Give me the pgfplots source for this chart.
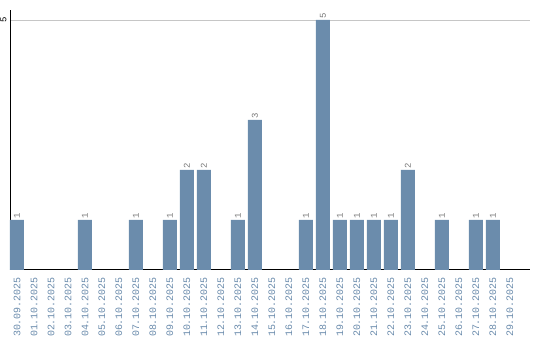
\documentclass[border=0pt]{standalone}
\usepackage{pgfplots}
\pgfplotsset{compat=1.18}
\usepackage{fontspec}
\setmainfont{Liberation Mono}
\definecolor{barc}{HTML}{6B8CAC}
\definecolor{labc}{HTML}{6A8BAC}
\definecolor{valc}{HTML}{7A7A7A}
\begin{document}
\begin{tikzpicture}
\begin{axis}[
  scale only axis,
  width=520bp, height=260bp,
  xmin=-0.41, xmax=30.18,
  ymin=0, ymax=5.2,
  axis x line=bottom, axis y line=left,
  axis line style={-, black, line width=1pt},
  ytick={5}, ymajorgrids,
  grid style={gray!45, line width=0.8pt},
  major tick length=0pt,
  yticklabel style={rotate=90, anchor=south, font=\fontsize{9}{9}\selectfont, black},
  /pgf/number format/assume math mode=true,
  xtick={0,...,29},
  xticklabels={30.09.2025,01.10.2025,02.10.2025,03.10.2025,04.10.2025,05.10.2025,06.10.2025,07.10.2025,08.10.2025,09.10.2025,10.10.2025,11.10.2025,12.10.2025,13.10.2025,14.10.2025,15.10.2025,16.10.2025,17.10.2025,18.10.2025,19.10.2025,20.10.2025,21.10.2025,22.10.2025,23.10.2025,24.10.2025,25.10.2025,26.10.2025,27.10.2025,28.10.2025,29.10.2025},
  xticklabel style={rotate=90, anchor=east, text=labc, font=\fontsize{10}{10}\selectfont, inner sep=1bp, xshift=-6bp},
  nodes near coords,
  every node near coord/.append style={rotate=90, anchor=west, text=valc, font=\fontsize{9}{9}\selectfont, inner sep=1bp},
]
\addplot[ybar, bar width=14bp, fill=barc, draw=none] coordinates {
(0,1) (4,1) (7,1) (9,1) (10,2) (11,2) (13,1) (14,3) (17,1) (18,5)
(19,1) (20,1) (21,1) (22,1) (23,2) (25,1) (27,1) (28,1)
};
\end{axis}
\pgfresetboundingbox
\path ([shift={(-10bp,-70bp)}]current axis.south west) rectangle ([shift={(10bp,10bp)}]current axis.north east);
\end{tikzpicture}
\end{document}
